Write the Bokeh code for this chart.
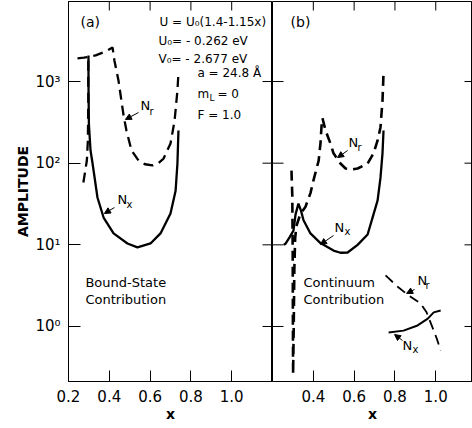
import math
from bokeh.plotting import figure
from bokeh.layouts import row
from bokeh.models import (Range1d, FixedTicker, Label, Arrow, NormalHead,
                          PrintfTickFormatter, Span)
from bokeh.embed import file_html
from bokeh.resources import INLINE

# ---------------- data ----------------
# Panel (a): bound-state contribution
a_nx_x = [0.298, 0.298, 0.300, 0.308, 0.318, 0.342, 0.372, 0.421, 0.489, 0.538,
          0.602, 0.651, 0.700, 0.725, 0.734, 0.739]
a_nx_y = [2080, 900, 300, 143, 99, 38, 21.6, 13.8, 10.4, 9.3,
          10.4, 13.8, 24.2, 46, 99, 251]

a_nr_x = [0.244, 0.275, 0.298, 0.333, 0.382, 0.416, 0.425, 0.445, 0.470, 0.484,
          0.509, 0.543, 0.575, 0.612, 0.640, 0.666, 0.700, 0.720, 0.734, 0.739]
a_nr_y = [1920, 1960, 2000, 2090, 2330, 2608, 1808, 1029, 384, 251,
          143, 108, 97, 94, 100, 114, 174, 331, 776, 1289]

a_nr_low_x = [0.273, 0.290, 0.295, 0.297, 0.297]
a_nr_low_y = [58, 108, 189, 585, 1800]

# Panel (b): continuum contribution
b_nx_x = [0.255, 0.265, 0.285, 0.303, 0.313, 0.327, 0.340, 0.352, 0.386, 0.435,
          0.499, 0.533, 0.568, 0.617, 0.666, 0.695, 0.715, 0.729, 0.739, 0.744]
b_nx_y = [10, 10.4, 12.5, 15, 23.6, 32, 26, 20, 13.8, 10.5,
          8.5, 8.0, 8.05, 10, 13.4, 23.6, 35, 66, 132, 251]

b_nr_x = [0.293, 0.297, 0.299, 0.300, 0.301, 0.304, 0.307, 0.311, 0.317, 0.337,
          0.361, 0.386, 0.401, 0.426, 0.435, 0.442, 0.445, 0.460, 0.484, 0.499,
          0.533, 0.558, 0.590, 0.617, 0.666, 0.695, 0.715, 0.729, 0.739, 0.744]
b_nr_y = [81, 40, 8, 1.0, 0.26, 1.0, 5, 12, 17, 24,
          29, 43, 62, 107, 174, 333, 355, 251, 174, 132,
          99, 86, 84, 86, 99, 132, 190, 274, 585, 1253]

b_nr_small_x = [0.754, 0.818, 0.867, 0.925, 0.955, 0.980, 1.005, 1.024]
b_nr_small_y = [4.22, 3.0, 2.4, 1.92, 1.49, 1.03, 0.71, 0.51]

b_nx_small_x = [0.769, 0.842, 0.911, 0.961, 0.990, 1.024]
b_nx_small_y = [0.845, 0.89, 1.03, 1.25, 1.49, 1.57]

x_ticks_a = [0.2, 0.4, 0.6, 0.8, 1.0]
x_ticks_b = [0.4, 0.6, 0.8, 1.0]
x_ticks_top = [0.4, 0.6, 0.8, 1.0]
y_ticks = [1, 10, 100, 1000]
y_tick_labels = ["10\u2070", "10\u00b9", "10\u00b2", "10\u00b3"]

FONT = "DejaVu Sans"
Y_LO, Y_HI = 0.212, 9550
XA_END, XB_END = 1.2, 1.18
H = 428
TOP, BOTTOM = 1, 47
FRAME_H = H - TOP - BOTTOM
PX_PER_DEC = FRAME_H / (math.log10(Y_HI) - math.log10(Y_LO))
PX_PER_X = 204.0
LW = 2.3
DASH = "10 6"


def axis_style(ax, tick_in):
    ax.major_tick_in = tick_in
    ax.major_tick_out = 0
    ax.minor_tick_line_color = None
    ax.axis_line_color = "black"
    ax.major_tick_line_color = "black"
    ax.major_tick_line_width = 1


def vticks_top(p, xs, length):
    # short vertical ticks hanging from the top edge of the frame
    y1 = Y_HI / 10 ** (length / PX_PER_DEC)
    p.segment(x0=xs, y0=[Y_HI] * len(xs), x1=xs, y1=[y1] * len(xs),
              line_color="black", line_width=1)


def hticks(p, edge_x, inward, length):
    # short horizontal ticks on a vertical edge; inward = +1 (left edge) / -1 (right edge)
    x1 = edge_x + inward * length / PX_PER_X
    n = len(y_ticks)
    p.segment(x0=[edge_x] * n, y0=y_ticks, x1=[x1] * n, y1=y_ticks,
              line_color="black", line_width=1)


def make_fig(width, x_end, left_border, x_ticks):
    p = figure(width=width, height=H, x_range=Range1d(0.2, x_end),
               y_range=Range1d(Y_LO, Y_HI), y_axis_type="log",
               output_backend="svg", toolbar_location=None,
               min_border_left=left_border, min_border_right=0,
               min_border_top=TOP, min_border_bottom=BOTTOM)
    p.xgrid.visible = False
    p.ygrid.visible = False
    p.outline_line_color = "black"
    p.background_fill_color = "white"
    p.border_fill_color = "white"
    xa = p.xaxis[0]
    xa.ticker = FixedTicker(ticks=x_ticks)
    xa.formatter = PrintfTickFormatter(format="%.1f")
    axis_style(xa, 11)
    xa.major_label_text_font = FONT
    xa.major_label_text_font_size = "15px"
    xa.major_label_text_color = "black"
    xa.major_label_standoff = 8
    xa.axis_label = "x"
    xa.axis_label_text_font = FONT
    xa.axis_label_text_font_style = "bold"
    xa.axis_label_text_font_size = "14px"
    xa.axis_label_standoff = 1
    xa.axis_label_text_color = "black"
    # frame border on top and right
    p.add_layout(Span(location=Y_HI, dimension="width", line_color="black", line_width=1))
    p.add_layout(Span(location=x_end, dimension="height", line_color="black", line_width=1))
    vticks_top(p, x_ticks_top, 9)
    return p


def sub_label(p, x, y, main, sx, sy, sub, size="13px", sub_size="10px"):
    p.add_layout(Label(x=x, y=y, text=main, text_font=FONT, text_font_size=size,
                       text_baseline="middle", text_align="left", text_color="black"))
    p.add_layout(Label(x=sx, y=sy, text=sub, text_font=FONT, text_font_size=sub_size,
                       text_baseline="middle", text_align="left", text_color="black"))


def text(p, x, y, t, size="12px", align="left"):
    p.add_layout(Label(x=x, y=y, text=t, text_font=FONT, text_font_size=size,
                       text_baseline="middle", text_align=align, text_color="black"))


def arrow(p, x0, y0, x1, y1):
    p.add_layout(Arrow(x_start=x0, y_start=y0, x_end=x1, y_end=y1, line_width=1,
                       line_color="black",
                       end=NormalHead(size=6, fill_color="black", line_color="black",
                                      line_width=1)))


# ---------------- panel (a) ----------------
pa = make_fig(272, XA_END, 68, x_ticks_a)
ya = pa.yaxis[0]
ya.ticker = FixedTicker(ticks=y_ticks)
axis_style(ya, 12)
ya.major_label_overrides = {t: s for t, s in zip(y_ticks, y_tick_labels)}
ya.major_label_text_font = FONT
ya.major_label_text_font_size = "15px"
ya.major_label_text_color = "black"
ya.major_label_standoff = 8
ya.axis_label = "AMPLITUDE"
ya.axis_label_text_font = FONT
ya.axis_label_text_font_style = "bold"
ya.axis_label_text_font_size = "14px"
ya.axis_label_standoff = 1
ya.axis_label_text_color = "black"
hticks(pa, XA_END, -1, 10)

pa.line(a_nx_x, a_nx_y, line_color="black", line_width=LW)
pa.line(a_nr_x, a_nr_y, line_color="black", line_width=LW, line_dash=DASH)
pa.line(a_nr_low_x, a_nr_low_y, line_color="black", line_width=LW, line_dash=DASH)

text(pa, 0.307, 5300, "(a)", size="14px", align="center")
text(pa, 0.646, 5430, "U = U\u2080(1.4-1.15x)")
text(pa, 0.641, 3177, "U\u2080= - 0.262 eV")
text(pa, 0.641, 1914, "V\u2080= - 2.677 eV")
text(pa, 0.832, 1289, "a = 24.8 \u00c5")
sub_label(pa, 0.832, 713, "m", 0.891, 637, "L", size="12px", sub_size="9px")
text(pa, 0.930, 713, "= 0")
text(pa, 0.832, 394, "F = 1.0")

sub_label(pa, 0.553, 508, "N", 0.597, 430, "r")
arrow(pa, 0.543, 417, 0.479, 343)
sub_label(pa, 0.440, 35.9, "N", 0.484, 31.2, "x")
arrow(pa, 0.425, 28.6, 0.376, 24.2)
text(pa, 0.283, 3.46, "Bound-State", size="13px")
text(pa, 0.283, 2.14, "Contribution", size="13px")

# ---------------- panel (b) ----------------
pb = make_fig(200, XB_END, 0, x_ticks_b)
pb.yaxis.visible = False
pb.add_layout(Span(location=0.2, dimension="height", line_color="black", line_width=1))
hticks(pb, 0.2, 1, 11)
hticks(pb, XB_END, -1, 8)

pb.line(b_nx_x, b_nx_y, line_color="black", line_width=LW)
pb.line(b_nr_x, b_nr_y, line_color="black", line_width=2.6, line_dash=DASH)
pb.line(b_nr_small_x, b_nr_small_y, line_color="black", line_width=1.8, line_dash=DASH)
pb.line(b_nx_small_x, b_nx_small_y, line_color="black", line_width=2)

text(pb, 0.337, 5300, "(b)", size="14px", align="center")
sub_label(pb, 0.573, 179, "N", 0.617, 156, "r")
arrow(pb, 0.568, 143, 0.519, 117)
sub_label(pb, 0.504, 16.3, "N", 0.553, 14.6, "x")
arrow(pb, 0.499, 13.0, 0.435, 10.1)
text(pb, 0.352, 3.46, "Continuum", size="13px")
text(pb, 0.352, 2.14, "Contribution", size="13px")
sub_label(pb, 0.911, 3.65, "N", 0.950, 3.18, "r")
arrow(pb, 0.896, 2.84, 0.857, 2.54)
sub_label(pb, 0.837, 0.585, "N", 0.886, 0.522, "x")
arrow(pb, 0.837, 0.674, 0.798, 0.798)

layout = row(pa, pb)
open("out.html", "w").write(file_html(layout, INLINE))
